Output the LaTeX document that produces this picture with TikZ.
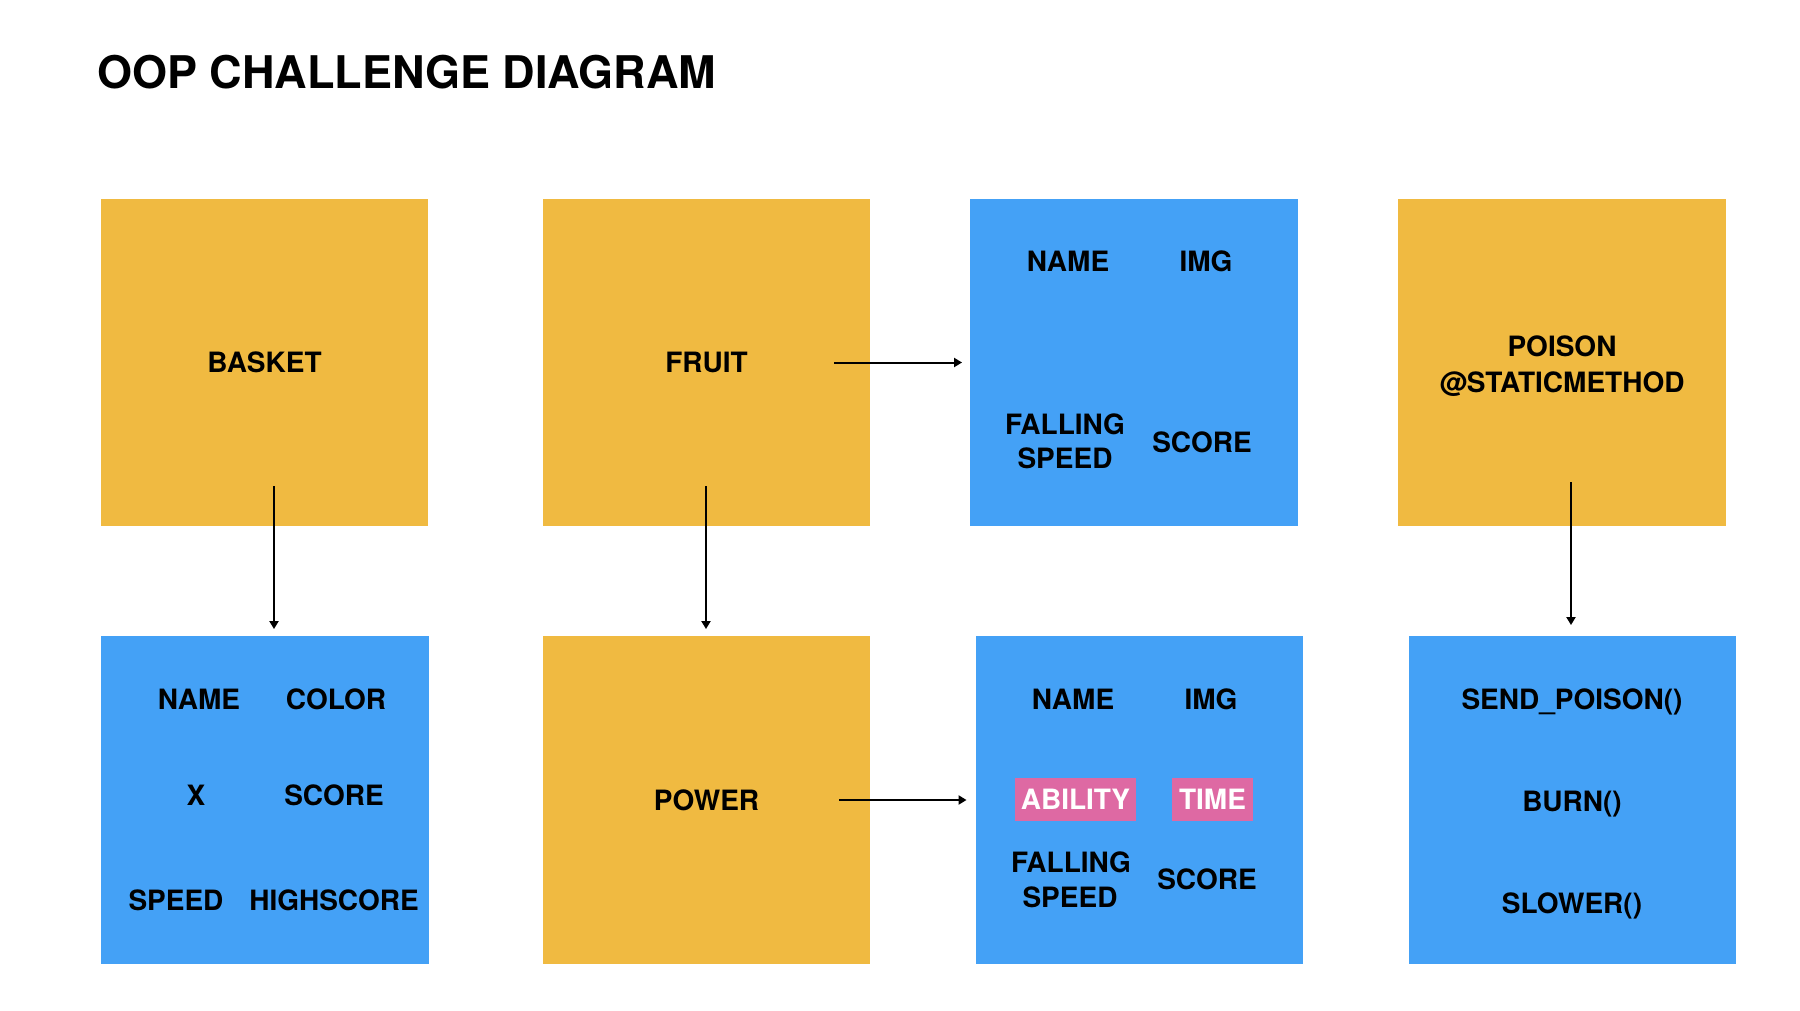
\documentclass[tikz,border=0pt]{standalone}
\usepackage{fontspec}
\setmainfont{TeX Gyre Heros}
\usetikzlibrary{arrows.meta}

\definecolor{classyellow}{HTML}{F0BA41}
\definecolor{attrblue}{HTML}{44A1F6}
\definecolor{newpink}{HTML}{DE69A3}

\begin{document}
\begin{tikzpicture}[x=1pt,y=-1pt,
  classbox/.style={fill=classyellow, draw=none, minimum width=327.5pt, minimum height=327.5pt,
    inner sep=0pt, align=center, font=\fontsize{28}{36}\selectfont\bfseries},
  attrbox/.style={fill=attrblue, draw=none, minimum width=327.5pt, minimum height=327.5pt, inner sep=0pt},
  field/.style={inner sep=0pt, text height=20pt, text depth=0pt, font=\fontsize{28}{34}\selectfont\bfseries},
  newfield/.style={field, fill=newpink, text=white, minimum height=43pt},
  link/.style={line width=2pt, -{Triangle[width=9pt,length=8pt]}}
]
% canvas
\path[use as bounding box, fill=white] (0,0) rectangle (1800,1010);

% heading
\node[anchor=base west, inner sep=0pt, font=\fontsize{45}{50}\selectfont\bfseries] (title) at (97,88) {OOP CHALLENGE DIAGRAM};

% classes
\node[classbox] (basket) at (264.5,362.5) {BASKET};
\node[classbox] (fruit)  at (706.5,362.5) {FRUIT};
\node[classbox] (poison) at (1562,362.5) {\rule{0pt}{27.5pt}POISON\\@STATICMETHOD};
\node[classbox] (power)  at (706.5,800) {POWER};

% attribute panels
\node[attrbox] (fruitattr)  at (1134,362.5) {};
\node[attrbox] (basketattr) at (265,800) {};
\node[attrbox] (powerattr)  at (1139.5,800) {};
\node[attrbox] (poisonattr) at (1572.5,800) {};

% fruit attributes
\node[field] (fname)  at (1068,261) {NAME};
\node[field] (fimg)   at (1206,261) {IMG};
\node[field] (ffall)  at (1065,424) {FALLING};
\node[field] (fspeed) at (1065,458) {SPEED};
\node[field] (fscore) at (1202,442) {SCORE};

% power attributes
\node[field] (pname)  at (1073,699) {NAME};
\node[field] (pimg)   at (1211,699) {IMG};
\node[newfield, minimum width=121pt] (pability) at (1075.5,799.5) {ABILITY};
\node[newfield, minimum width=81pt]  (ptime)    at (1212.5,799.5) {TIME};
\node[field] (pfall)  at (1071,862) {FALLING};
\node[field] (pspeed) at (1070,897) {SPEED};
\node[field] (pscore) at (1207,879) {SCORE};

% basket attributes
\node[field] (bname)  at (199,699) {NAME};
\node[field] (bcolor) at (336,699) {COLOR};
\node[field] (bx)     at (196,795) {X};
\node[field] (bscore) at (334,795) {SCORE};
\node[field] (bspeed) at (176,900) {SPEED};
\node[field] (bhigh)  at (334,900) {HIGHSCORE};

% poison methods
\node[field] (psend)  at (1572,699) {SEND\_POISON()};
\node[field] (pburn)  at (1572,801) {BURN()};
\node[field] (pslow)  at (1572,903) {SLOWER()};

% connectors
\draw[link] ([xshift=9.5pt,yshift=40pt]basket.south) -- ([xshift=9pt,yshift=7pt]basketattr.north);
\draw[link] ([xshift=-0.5pt,yshift=40pt]fruit.south) -- ([xshift=-0.5pt,yshift=7pt]power.north);
\draw[link] ([xshift=9pt,yshift=44pt]poison.south) -- ([xshift=-1.5pt,yshift=11pt]poisonattr.north);
\draw[link] ([xshift=-36pt]fruit.east) -- ([xshift=-8pt]fruitattr.west);
\draw[link] ([xshift=-31pt]power.east) -- ([xshift=-9pt]powerattr.west);
\end{tikzpicture}
\end{document}
